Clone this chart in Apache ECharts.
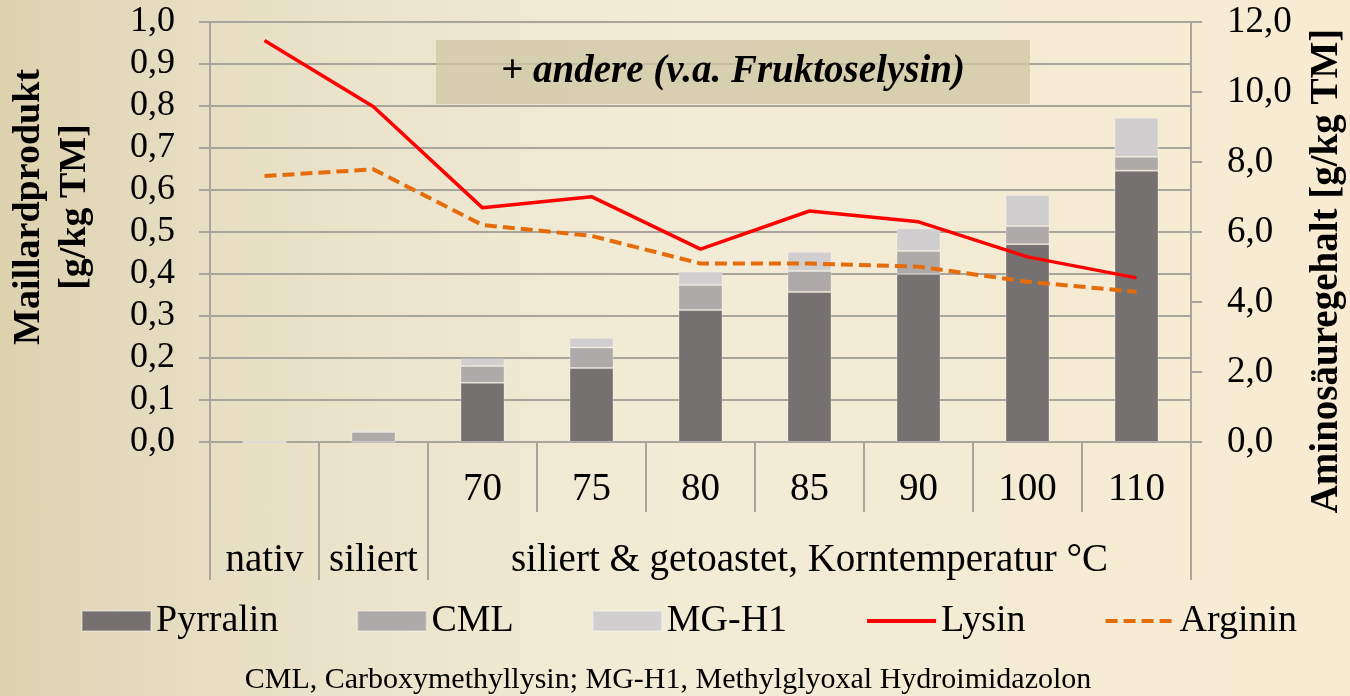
<!DOCTYPE html>
<html>
<head>
<meta charset="utf-8">
<script src="https://cdn.jsdelivr.net/npm/echarts@6/dist/echarts.min.js"></script>
<style>
  html, body { margin: 0; padding: 0; width: 1350px; height: 696px; overflow: hidden;
    background: linear-gradient(to right, #ddd1ae 0%, #e7dec3 15%, #f1ebd6 45%, #f8ebd2 100%); }
  #chart { width: 1350px; height: 696px; }
</style>
</head>
<body>
<div id="chart"></div>
<script>
// ---- data ----
const categories = ['nativ', 'siliert', '70', '75', '80', '85', '90', '100', '110'];
const tempLabels = ['', '', '70', '75', '80', '85', '90', '100', '110'];
const groupLabels = ['nativ', 'siliert', '', '', '', 'siliert & getoastet, Korntemperatur °C', '', '', ''];
const pyrralin = [0, 0, 0.141, 0.176, 0.314, 0.357, 0.400, 0.471, 0.646];
const cml      = [0, 0.024, 0.040, 0.049, 0.060, 0.050, 0.055, 0.043, 0.033];
const mgh1     = [0, 0.004, 0.018, 0.023, 0.032, 0.046, 0.054, 0.074, 0.093];
const lysin    = [11.47, 9.58, 6.69, 7.01, 5.51, 6.60, 6.29, 5.29, 4.69];
const arginin  = [7.60, 7.79, 6.20, 5.89, 5.10, 5.10, 5.01, 4.58, 4.29];
const leftTitle = 'Maillardprodukt\n[g/kg TM]';
const rightTitle = 'Aminosäuregehalt [g/kg TM]';
const boxText = '+ andere (v.a. Fruktoselysin)';
const footnote = 'CML, Carboxymethyllysin; MG-H1, Methylglyoxal Hydroimidazolon';

const FONT = 'Liberation Serif';
const GRID = '#a8a59c';
const fmt1 = v => v.toFixed(1).replace('.', ',');

const chart = echarts.init(document.getElementById('chart'), null, { renderer: 'canvas' });
chart.setOption({
  backgroundColor: 'transparent',
  animation: false,
  textStyle: { fontFamily: FONT, color: '#000' },
  grid: { left: 210, right: 159, top: 22, bottom: 254, containLabel: false, outerBoundsMode: 'none' },
  legend: {
    left: 81, top: 602, padding: 0,
    itemWidth: 69, itemHeight: 20, itemGap: 78,
    textStyle: { fontSize: 38, fontFamily: FONT, color: '#000' },
    data: [
      { name: 'Pyrralin', icon: 'rect' },
      { name: 'CML', icon: 'rect' },
      { name: 'MG-H1', icon: 'rect' },
      { name: 'Lysin', itemStyle: { opacity: 0 }, lineStyle: { width: 4 } },
      { name: 'Arginin', itemStyle: { opacity: 0 }, lineStyle: { width: 4 } }
    ]
  },
  xAxis: [
    {
      type: 'category', data: categories, position: 'bottom', boundaryGap: true,
      axisLine: { show: true, lineStyle: { color: GRID, width: 2 } },
      axisTick: { show: true, interval: 0, length: 70, lineStyle: { color: GRID, width: 2 } },
      axisLabel: { interval: 0, margin: 28, fontSize: 39, fontFamily: FONT, color: '#000',
        formatter: (v, i) => tempLabels[i] },
      splitLine: { show: false }
    },
    {
      type: 'category', data: categories, position: 'bottom', boundaryGap: true,
      axisLine: { show: false },
      axisTick: { show: true, length: 138, interval: (i) => i <= 2, lineStyle: { color: GRID, width: 2 } },
      axisLabel: { interval: 0, margin: 99, fontSize: 39, fontFamily: FONT, color: '#000',
        formatter: (v, i) => groupLabels[i] },
      splitLine: { show: false }
    }
  ],
  yAxis: [
    {
      type: 'value', min: 0, max: 1, interval: 0.1, position: 'left',
      axisLine: { show: true, lineStyle: { color: GRID, width: 2 } },
      axisTick: { show: true, inside: false, length: 11, lineStyle: { color: GRID, width: 2 } },
      axisLabel: { margin: 35, fontSize: 36, fontFamily: FONT, color: '#000', formatter: fmt1 },
      splitLine: { show: true, lineStyle: { color: GRID, width: 2 } }
    },
    {
      type: 'value', min: 0, max: 12, interval: 2, position: 'right',
      axisLine: { show: true, lineStyle: { color: GRID, width: 2 } },
      axisTick: { show: true, inside: false, length: 11, lineStyle: { color: GRID, width: 2 } },
      axisLabel: { margin: 36, fontSize: 37, fontFamily: FONT, color: '#000', formatter: fmt1 },
      splitLine: { show: false }
    }
  ],
  series: [
    { name: 'Pyrralin', type: 'bar', stack: 'm', barWidth: 44, data: pyrralin,
      itemStyle: { color: '#767171', borderColor: 'rgba(255,255,255,0.3)', borderWidth: 1 } },
    { name: 'CML', type: 'bar', stack: 'm', barWidth: 44, data: cml,
      itemStyle: { color: '#aeaaaa', borderColor: 'rgba(255,255,255,0.3)', borderWidth: 1 } },
    { name: 'MG-H1', type: 'bar', stack: 'm', barWidth: 44, data: mgh1,
      itemStyle: { color: '#d0cece', borderColor: 'rgba(255,255,255,0.3)', borderWidth: 1 } },
    { name: 'Lysin', type: 'line', yAxisIndex: 1, data: lysin, symbol: 'none', z: 5,
      lineStyle: { color: '#ff0000', width: 3.5 }, itemStyle: { color: '#ff0000' } },
    { name: 'Arginin', type: 'line', yAxisIndex: 1, data: arginin, symbol: 'none', z: 5,
      lineStyle: { color: '#e46c0a', width: 4, type: [12, 6] }, itemStyle: { color: '#e46c0a' } }
  ],
  graphic: [
    { type: 'rect', z: 3, shape: { x: 436, y: 40, width: 594, height: 64 },
      style: { fill: 'rgba(208,199,164,0.78)' } },
    { type: 'text', z: 4, x: 733, y: 72,
      style: { text: boxText, font: 'italic bold 39px "Liberation Serif"', fill: '#000',
        textAlign: 'center', textVerticalAlign: 'middle' } },
    { type: 'text', x: 52, y: 207, rotation: Math.PI / 2,
      style: { text: leftTitle, font: 'bold 38px "Liberation Serif"', lineHeight: 46, fill: '#000',
        textAlign: 'center', textVerticalAlign: 'middle' } },
    { type: 'text', x: 1327, y: 271, rotation: Math.PI / 2,
      style: { text: rightTitle, font: 'bold 39px "Liberation Serif"', fill: '#000',
        textAlign: 'center', textVerticalAlign: 'middle' } },
    { type: 'text', x: 668, y: 680,
      style: { text: footnote, font: '30px "Liberation Serif"', fill: '#000',
        textAlign: 'center', textVerticalAlign: 'middle' } }
  ]
});
</script>
</body>
</html>
